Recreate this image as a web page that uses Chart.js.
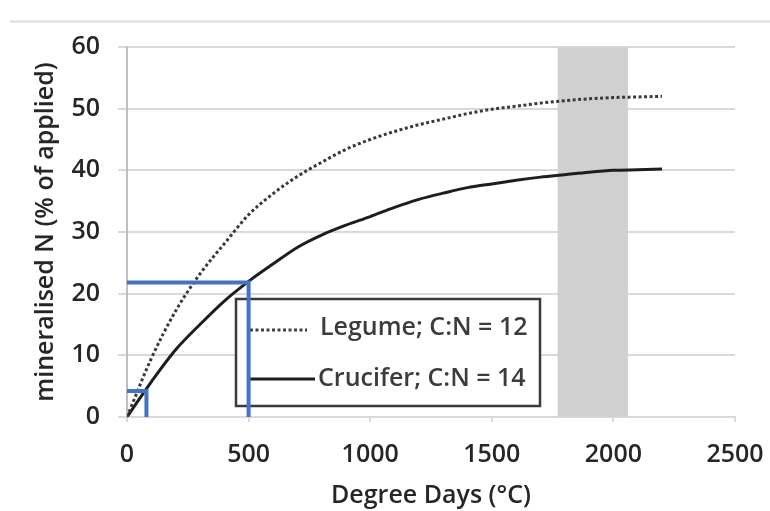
<!DOCTYPE html>
<html>
<head>
<meta charset="utf-8">
<script src="https://cdn.jsdelivr.net/npm/chart.js@4.4.1/dist/chart.umd.min.js"></script>
<style>
  html, body { margin: 0; padding: 0; background: #fff; }
  #wrap { width: 770px; height: 511px; }
</style>
</head>
<body>
<div id="wrap"><canvas id="grafico" width="770" height="511"></canvas></div>
<script>
// dados (graus-dia x % de N mineralizado)
var degreeDays = [0, 100, 200, 300, 400, 500, 600, 700, 800, 900, 1000, 1100,
                  1200, 1300, 1400, 1500, 1600, 1700, 1800, 1900, 2000, 2100, 2200];
var legume = [0, 9.5, 17.2, 23.2, 28.1, 32.8, 36.2, 39.0, 41.3, 43.4, 45.0, 46.3,
              47.4, 48.3, 49.2, 49.9, 50.4, 50.9, 51.3, 51.6, 51.8, 51.9, 52.0];
var crucifer = [0, 5.7, 10.9, 15.0, 18.8, 22.0, 24.8, 27.5, 29.5, 31.1, 32.5, 34.0,
                35.3, 36.3, 37.2, 37.8, 38.4, 38.9, 39.3, 39.7, 40.0, 40.1, 40.2];
var bandRange = [1770, 2060];      // faixa cinza
var markBig = [500, 21.8];         // linha azul grande (x, y)
var markSmall = [80, 4.2];         // linha azul pequena
var xTicks = [0, 500, 1000, 1500, 2000, 2500];
var yTicks = [0, 10, 20, 30, 40, 50, 60];
var legendLabels = ['Legume; C:N = 12', 'Crucifer; C:N = 14'];

var FONT = "'Open Sans', sans-serif";
var TXT = '#262626';
var WEIGHT = '600';

function pts(xs, ys) {
    return xs.map((x, i) => ({ x: x, y: ys[i] }));
}
function marker(m) {
    return [{ x: 0, y: m[1] }, { x: m[0], y: m[1] }, { x: m[0], y: 0 }];
}

var extras = {
    id: 'extras',
    beforeDraw: function (chart) {
        var c = chart.ctx;
        c.save();
        c.strokeStyle = '#dcdcdc';
        c.lineWidth = 2;
        c.beginPath();
        c.moveTo(10, 21.5);
        c.lineTo(770, 21.5);
        c.stroke();
        c.restore();
    },
    beforeDatasetDraw: function (chart, args) {
        if (args.index !== 1) return; // legenda fica por baixo das linhas azuis
        var c = chart.ctx;
        c.save();
        c.fillStyle = '#fff';
        c.fillRect(236, 299, 304, 107);
        c.strokeStyle = '#3a3a3a';
        c.lineWidth = 2.5;
        c.strokeRect(236, 299, 304, 107);

        c.strokeStyle = '#404040';
        c.lineWidth = 3;
        c.setLineDash([3, 2.5]);
        c.beginPath();
        c.moveTo(250, 330);
        c.lineTo(307, 330);
        c.stroke();

        c.setLineDash([]);
        c.strokeStyle = '#1e1e1e';
        c.beginPath();
        c.moveTo(250, 379);
        c.lineTo(315, 379);
        c.stroke();

        c.fillStyle = '#3c3c3c';
        c.font = WEIGHT + ' 25px ' + FONT;
        c.textBaseline = 'alphabetic';
        c.fillText(legendLabels[0], 320, 335);
        c.fillText(legendLabels[1], 318, 386);
        c.restore();
    }
};

var ctx = document.getElementById('grafico').getContext('2d');
var grafico = new Chart(ctx, {
    type: 'line',
    data: {
        datasets: [
            {
                label: 'big',
                data: marker(markBig),
                borderColor: '#4472c4',
                borderWidth: 4,
                pointRadius: 0,
                tension: 0
            },
            {
                label: 'small',
                data: marker(markSmall),
                borderColor: '#4472c4',
                borderWidth: 4,
                pointRadius: 0,
                tension: 0
            },
            {
                label: legendLabels[0],
                data: pts(degreeDays, legume),
                borderColor: '#3a3a3a',
                borderWidth: 3,
                borderDash: [3, 2.5],
                pointRadius: 0,
                cubicInterpolationMode: 'monotone'
            },
            {
                label: legendLabels[1],
                data: pts(degreeDays, crucifer),
                borderColor: '#1e1e1e',
                borderWidth: 3,
                pointRadius: 0,
                cubicInterpolationMode: 'monotone'
            },
            {
                label: 'band',
                data: pts(bandRange, [60, 60]),
                borderWidth: 0,
                pointRadius: 0,
                backgroundColor: '#d0d0d0',
                fill: 'origin'
            }
        ]
    },
    options: {
        responsive: false,
        animation: false,
        layout: { padding: { left: 0, top: 47, right: 35, bottom: 0 } },
        plugins: {
            legend: { display: false },
            tooltip: { enabled: false }
        },
        scales: {
            x: {
                type: 'linear',
                min: 0,
                max: 2500,
                afterBuildTicks: function (s) { s.ticks = xTicks.map(v => ({ value: v })); },
                afterFit: function (s) {
                    s.height = 94;
                    s.paddingLeft = 0;   // deixa o layout.padding decidir a margem
                    s.paddingRight = 0;
                },
                grid: { drawOnChartArea: false, drawTicks: true, tickLength: 5, color: '#d9d9d9', lineWidth: 2 },
                border: { display: true, color: '#d9d9d9', width: 2 },
                ticks: {
                    padding: 18,
                    color: TXT,
                    font: { family: FONT, size: 25, weight: WEIGHT },
                    maxRotation: 0,
                    callback: function (v) { return String(v); }
                },
                title: {
                    display: true,
                    text: 'Degree Days (°C)',
                    color: TXT,
                    font: { family: FONT, size: 25, weight: WEIGHT },
                    padding: { top: 0, bottom: 0 }
                }
            },
            y: {
                min: 0,
                max: 60,
                afterBuildTicks: function (s) { s.ticks = yTicks.map(v => ({ value: v })); },
                afterFit: function (s) { s.width = 127; },
                grid: { color: '#d9d9d9', lineWidth: 2, tickLength: 9 },
                border: { display: true, color: '#bfbfbf', width: 2 },
                ticks: {
                    padding: 18,
                    color: TXT,
                    font: { family: FONT, size: 25, weight: WEIGHT },
                    callback: function (v) { return String(v); }
                },
                title: {
                    display: true,
                    text: 'mineralised N (% of applied)',
                    color: TXT,
                    font: { family: FONT, size: 25, weight: WEIGHT },
                    padding: { top: 31, bottom: 0 }
                }
            }
        }
    },
    plugins: [extras]
});
</script>
</body>
</html>
